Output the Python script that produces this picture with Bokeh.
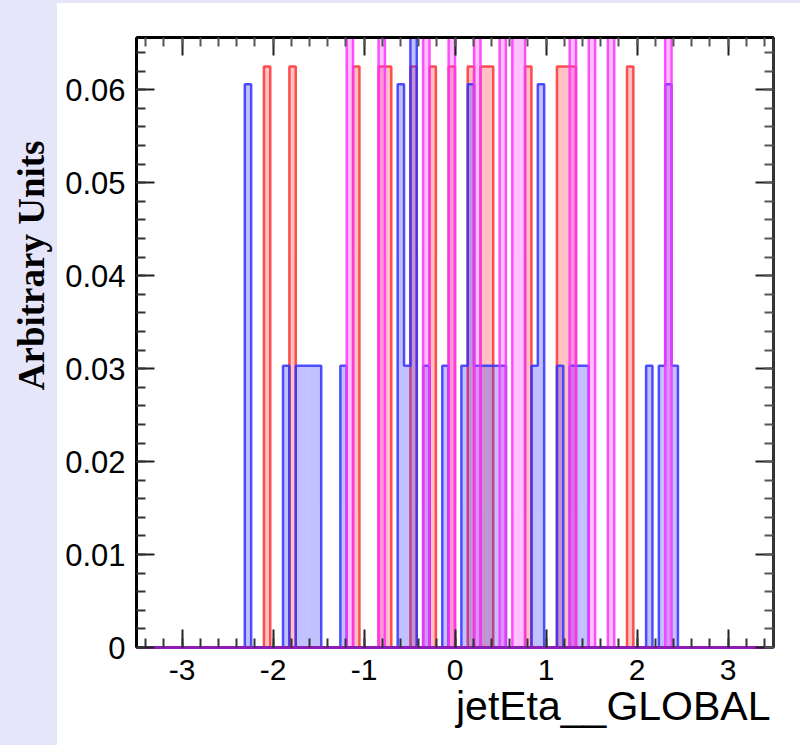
import numpy as np
from bokeh.plotting import figure
from bokeh.models import Range1d, LinearAxis, SingleIntervalTicker, CustomJSTickFormatter, Title
from bokeh.embed import file_html
from bokeh.resources import INLINE

# Histogram binning (jetEta__GLOBAL)
ETA_MIN = -3.5
ETA_MAX = 3.5
N_BINS = 100

# Non-empty bins (bin index) and their normalised contents, per sample
red_bins = [20, 24, 34, 38, 39, 43, 46, 49, 52, 54, 55, 61, 66, 67, 68, 77]
red_vals = [0.0625, 0.0625, 0.0625, 0.0625, 0.0625, 0.0625, 0.0625, 0.0625,
            0.0625, 0.0625, 0.0625, 0.0625, 0.0625, 0.0625, 0.0625, 0.0625]

blue_bins = [17, 23, 25, 26, 27, 28, 32, 41, 42, 43, 45, 48, 51, 52, 53, 54, 55,
             56, 57, 62, 63, 66, 68, 69, 70, 80, 82, 83, 84]
blue_vals = [0.0606, 0.0303, 0.0303, 0.0303, 0.0303, 0.0303, 0.0303, 0.0606, 0.0303,
             0.0909, 0.0303, 0.0303, 0.0303, 0.0606, 0.0303, 0.0303, 0.0303, 0.0303,
             0.0303, 0.0303, 0.0606, 0.0303, 0.0303, 0.0303, 0.0303, 0.0303, 0.0303,
             0.0606, 0.0303]

magenta_bins = [33, 38, 45, 49, 53, 57, 59, 60, 68, 71, 74, 83]
magenta_vals = [0.0833, 0.0833, 0.0833, 0.0833, 0.0833, 0.0833, 0.0833, 0.0833,
                0.0833, 0.0833, 0.0833, 0.0833]

Y_MAX = 0.065625

edges = np.linspace(ETA_MIN, ETA_MAX, N_BINS + 1)


def full_hist(bins, vals):
    h = np.zeros(N_BINS)
    for b, v in zip(bins, vals):
        h[b] = v
    return h


p = figure(width=800, height=745, output_backend="svg", toolbar_location=None,
           x_range=Range1d(ETA_MIN, ETA_MAX), y_range=Range1d(0, Y_MAX),
           min_border_left=136, min_border_right=27, min_border_top=37, min_border_bottom=98,
           background_fill_color="white", border_fill_alpha=0.0)
p.styles = {"background": "linear-gradient(#e6e6fa,#e6e6fa) 0 0 / 57px 100% no-repeat, "
                          "linear-gradient(#e6e6fa,#e6e6fa) 0 0 / 100% 3px no-repeat, #ffffff"}
p.grid.visible = False
p.outline_line_color = "black"
p.outline_line_width = 2

samples = [
    (red_bins, red_vals, "#ff3333"),
    (blue_bins, blue_vals, "#3333ff"),
    (magenta_bins, magenta_vals, "#ff33ff"),
]
for bins, vals, col in samples:
    h = full_hist(bins, vals)
    lefts = [edges[b] for b in bins]
    rights = [edges[b + 1] for b in bins]
    p.quad(left=lefts, right=rights, bottom=0, top=vals, fill_color=col,
           fill_alpha=0.3, line_color=None)
    ys = np.concatenate([h, [0.0]])
    p.step(x=edges, y=ys, mode="after", line_color=col, line_width=2.5, line_alpha=0.85)

# Axes styling (ROOT-like ticks inside the frame)
xt = SingleIntervalTicker(interval=1, num_minor_ticks=5)
yt = SingleIntervalTicker(interval=0.01, num_minor_ticks=5)
xfmt = CustomJSTickFormatter(code="return tick.toFixed(0);")
yfmt = CustomJSTickFormatter(code="return Math.abs(tick) < 1e-9 ? '0' : tick.toFixed(2);")
blankfmt = CustomJSTickFormatter(code="return '';")

xa = p.xaxis[0]
ya = p.yaxis[0]
xa.ticker = xt
ya.ticker = yt
xa.formatter = xfmt
ya.formatter = yfmt

for ax in (xa, ya):
    ax.major_tick_in = 18
    ax.major_tick_out = 0
    ax.minor_tick_in = 9
    ax.minor_tick_out = 0
    ax.major_tick_line_color = "#222222"
    ax.minor_tick_line_color = "#333333"
    ax.major_tick_line_width = 2
    ax.minor_tick_line_width = 2
    ax.major_label_text_font = "Liberation Sans"
    ax.major_label_text_color = "black"
xa.major_label_text_font_size = "30px"
ya.major_label_text_font_size = "31px"
xa.major_label_standoff = 12
ya.major_label_standoff = 11
xa.axis_line_color = "#8c1cb4"
xa.axis_line_width = 3
ya.axis_line_color = "black"
ya.axis_line_width = 3

top_ax = LinearAxis(ticker=SingleIntervalTicker(interval=1, num_minor_ticks=5),
                    formatter=blankfmt, axis_line_color="black", axis_line_width=3)
right_ax = LinearAxis(ticker=SingleIntervalTicker(interval=0.01, num_minor_ticks=5),
                      formatter=blankfmt, axis_line_color="#333333", axis_line_width=3)
for ax in (top_ax, right_ax):
    ax.major_tick_in = 18
    ax.major_tick_out = 0
    ax.minor_tick_in = 9
    ax.minor_tick_out = 0
    ax.major_tick_line_color = "#222222"
    ax.minor_tick_line_color = "#555555"
    ax.major_tick_line_width = 2
    ax.minor_tick_line_width = 2
    ax.major_label_standoff = 0
p.add_layout(top_ax, "above")
p.add_layout(right_ax, "right")

# Axis titles (ROOT style: aligned towards the axis end)
ytitle = Title(text="Arbitrary Units", align="right", offset=103, vertical_align="top",
               standoff=17, text_font="Liberation Serif", text_font_style="bold",
               text_font_size="37px", text_color="black")
xtitle = Title(text="jetEta__GLOBAL", align="right", offset=3, vertical_align="top",
               standoff=0, text_font="Liberation Sans", text_font_style="normal",
               text_font_size="41px", text_color="black")
p.add_layout(ytitle, "left")
p.add_layout(xtitle, "below")

open("out.html", "w").write(file_html(p, INLINE))
